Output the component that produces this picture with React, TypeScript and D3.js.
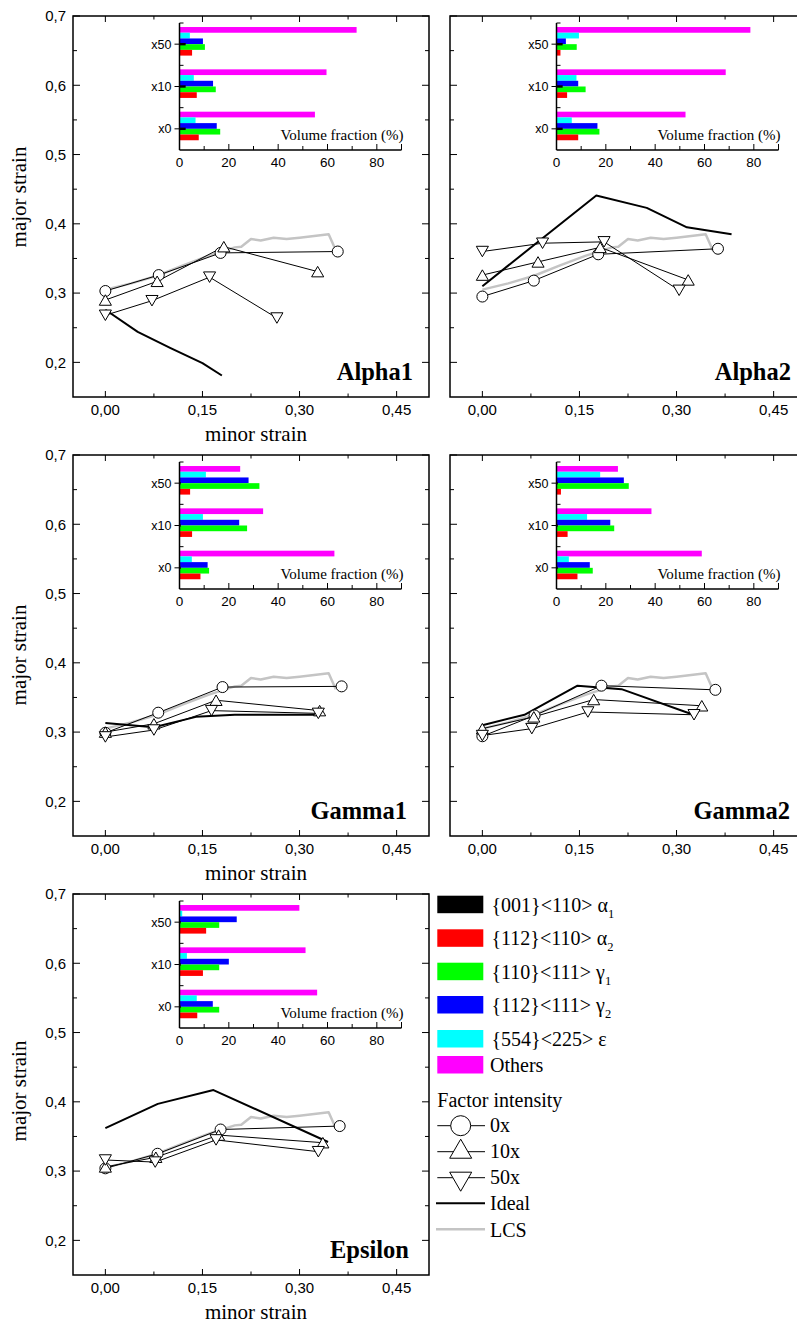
import React from 'react';
import * as d3 from 'd3';

type Pt = [number, number];

// ---- axis ticks / categories ----
const insetCategories = ['x0', 'x10', 'x50'];
const insetTicks = [0, 20, 40, 60, 80];
const strainXTicks = [0, 0.15, 0.3, 0.45];
const strainYTicks = [0.2, 0.3, 0.4, 0.5, 0.6, 0.7];

// legend order: α1, α2, γ1, γ2, ε, others
const textureLabels = [
  { base: '{001}<110> α', sub: '1' },
  { base: '{112}<110> α', sub: '2' },
  { base: '{110}<111> γ', sub: '1' },
  { base: '{112}<111> γ', sub: '2' },
  { base: '{554}<225> ε', sub: '' },
  { base: 'Others', sub: '' },
];
const textureColors = ['#000000', '#ff0000', '#00ff00', '#0000ff', '#00ffff', '#ff00ff'];
const factorLabels = ['0x', '10x', '50x'];

// ---- shared LCS curve ----
const lcsCurve: Pt[] = [
  [0, 0.305], [0.04, 0.314], [0.08, 0.325], [0.12, 0.34], [0.16, 0.354], [0.2, 0.366],
  [0.21, 0.367], [0.225, 0.378], [0.24, 0.376], [0.26, 0.38], [0.28, 0.378], [0.3, 0.38],
  [0.345, 0.385], [0.356, 0.362],
];

// ---- volume fractions (rows: α1, α2, γ1, γ2, ε, others; cols: x0, x10, x50) ----
const alpha1Fractions = [
  [2.5, 2.5, 2.5], [7.8, 7.0, 5.1], [16.5, 14.7, 10.3], [15.1, 13.6, 9.5], [6.5, 5.8, 4.2], [54.9, 59.6, 71.8],
];
const alpha2Fractions = [
  [2.5, 2.5, 2.5], [8.8, 4.3, 1.6], [17.4, 11.8, 8.2], [16.6, 8.8, 3.8], [6.2, 8.1, 9.1], [52.3, 68.6, 78.6],
];
const gamma1Fractions = [
  [0.5, 0.5, 0.5], [8.5, 5.1, 4.3], [12.0, 27.4, 32.4], [11.4, 24.2, 28.0], [5.0, 9.5, 10.7], [62.8, 33.9, 24.6],
];
const gamma2Fractions = [
  [0.5, 0.5, 0.5], [8.5, 4.5, 1.8], [14.7, 23.4, 29.3], [13.5, 21.8, 27.3], [5.0, 12.4, 17.7], [58.9, 38.5, 24.9],
];
const epsilonFractions = [
  [0.5, 0.5, 0.5], [7.2, 9.5, 10.8], [16.1, 16.1, 16.1], [13.5, 20.0, 23.2], [7.0, 3.0, 1.1], [55.8, 51.1, 48.6],
];

// ---- strain paths (minor, major) ----
const alpha1Circle: Pt[] = [[0, 0.303], [0.0825, 0.326], [0.178, 0.358], [0.359, 0.36]];
const alpha1Up: Pt[] = [[0, 0.29], [0.08, 0.317], [0.183, 0.367], [0.328, 0.331]];
const alpha1Down: Pt[] = [[0, 0.268], [0.072, 0.289], [0.161, 0.323], [0.265, 0.264]];
const alpha1Ideal: Pt[] = [[0, 0.276], [0.05, 0.244], [0.1, 0.221], [0.15, 0.199], [0.18, 0.181]];

const alpha2Circle: Pt[] = [[0, 0.295], [0.0795, 0.318], [0.179, 0.356], [0.364, 0.364]];
const alpha2Up: Pt[] = [[0, 0.326], [0.086, 0.345], [0.182, 0.366], [0.318, 0.319]];
const alpha2Down: Pt[] = [[0, 0.36], [0.093, 0.372], [0.188, 0.374], [0.304, 0.304]];
const alpha2Ideal: Pt[] = [[0, 0.31], [0.176, 0.441], [0.254, 0.423], [0.316, 0.395], [0.385, 0.385]];

const gamma1Circle: Pt[] = [[0, 0.299], [0.0817, 0.328], [0.181, 0.365], [0.365, 0.366]];
const gamma1Up: Pt[] = [[0, 0.3], [0.075, 0.312], [0.171, 0.346], [0.331, 0.331]];
const gamma1Down: Pt[] = [[0, 0.293], [0.075, 0.303], [0.164, 0.331], [0.329, 0.327]];
const gamma1Ideal: Pt[] = [[0, 0.313], [0.075, 0.307], [0.14, 0.322], [0.2, 0.325], [0.33, 0.325]];

const gamma2Circle: Pt[] = [[0, 0.294], [0.0806, 0.324], [0.184, 0.367], [0.36, 0.361]];
const gamma2Up: Pt[] = [[0, 0.305], [0.0795, 0.322], [0.172, 0.347], [0.339, 0.338]];
const gamma2Down: Pt[] = [[0, 0.295], [0.0764, 0.305], [0.163, 0.329], [0.327, 0.325]];
const gamma2Ideal: Pt[] = [[0, 0.31], [0.065, 0.325], [0.147, 0.367], [0.215, 0.362], [0.326, 0.325]];

const epsilonCircle: Pt[] = [[0, 0.304], [0.0806, 0.325], [0.178, 0.36], [0.362, 0.365]];
const epsilonUp: Pt[] = [[0, 0.306], [0.078, 0.32], [0.175, 0.352], [0.336, 0.341]];
const epsilonDown: Pt[] = [[0, 0.316], [0.077, 0.313], [0.171, 0.345], [0.329, 0.328]];
const epsilonIdeal: Pt[] = [[0, 0.362], [0.081, 0.397], [0.167, 0.417], [0.344, 0.342]];

const SANS = '"Liberation Sans", Arial, sans-serif';
const SERIF = '"Liberation Serif", "Times New Roman", serif';

const panels = [
  { name: 'Alpha1', left: 73, top: 16, fr: alpha1Fractions, circle: alpha1Circle, up: alpha1Up, down: alpha1Down, ideal: alpha1Ideal, yLabelY: 197, xLabel: true, nameRight: 413 },
  { name: 'Alpha2', left: 450, top: 16, fr: alpha2Fractions, circle: alpha2Circle, up: alpha2Up, down: alpha2Down, ideal: alpha2Ideal, yLabelY: 0, xLabel: false, nameRight: 791 },
  { name: 'Gamma1', left: 73, top: 455, fr: gamma1Fractions, circle: gamma1Circle, up: gamma1Up, down: gamma1Down, ideal: gamma1Ideal, yLabelY: 655, xLabel: true, nameRight: 407 },
  { name: 'Gamma2', left: 450, top: 455, fr: gamma2Fractions, circle: gamma2Circle, up: gamma2Up, down: gamma2Down, ideal: gamma2Ideal, yLabelY: 0, xLabel: false, nameRight: 790 },
  { name: 'Epsilon', left: 73, top: 894, fr: epsilonFractions, circle: epsilonCircle, up: epsilonUp, down: epsilonDown, ideal: epsilonIdeal, yLabelY: 1091, xLabel: true, nameRight: 409 },
];

const comma = (d: number, n: number) => d.toFixed(n).replace('.', ',');

function triPath(width: number) {
  const yy = width / (2 * Math.sqrt(3));
  return { d: d3.symbol().type(d3.symbolTriangle).size(yy * yy * 3 * Math.sqrt(3))() as string, shift: yy / 2 };
}

function Marker({ kind, cx, cy, size }: { kind: number; cx: number; cy: number; size: number }) {
  if (kind === 0) return <circle cx={cx} cy={cy} r={size / 2} fill="#fff" stroke="#000" strokeWidth={1} />;
  const t = triPath(size * 1.1);
  const tr = kind === 1 ? `translate(${cx},${cy + t.shift})` : `translate(${cx},${cy - t.shift}) rotate(180)`;
  return <path d={t.d} transform={tr} fill="#fff" stroke="#000" strokeWidth={1} />;
}

function Inset({ left, top, fr }: { left: number; top: number; fr: number[][] }) {
  const il = left + 106.5, it = top + 7, ib = top + 134;
  const ix = d3.scaleLinear().domain([0, 90]).range([il, il + 222]);
  const iy = d3.scaleBand().domain(insetCategories).range([ib, it]);
  const bw = iy.bandwidth();
  const th = bw * 0.135;
  // slot from top of band: others, ε, γ2, γ1, α2
  const slot: Record<number, number> = { 5: 0, 4: 1, 3: 2, 2: 3, 1: 4 };
  const off = bw * 0.095;
  const minorX = d3.range(10, 100, 20);
  return (
    <g>
      {[5, 4, 3, 2, 1].map(s =>
        insetCategories.map((c, ci) => (
          <rect key={`${s}-${c}`} x={ix(0)} y={(iy(c) as number) + off + slot[s] * th} width={ix(fr[s][ci]) - ix(0)} height={th} fill={textureColors[s]} />
        ))
      )}
      {insetCategories.map((c, ci) => (
        <rect key={`a1-${c}`} x={ix(0)} y={(iy(c) as number) + off + 3 * th - 1.2} width={ix(fr[0][ci]) - ix(0)} height={2.4} fill={textureColors[0]} />
      ))}
      <line x1={il} x2={il} y1={ib} y2={it} stroke="#000" strokeWidth={1.5} />
      <line x1={il} x2={il + 222} y1={ib} y2={ib} stroke="#000" strokeWidth={1.5} />
      {insetTicks.map(t => (
        <g key={t}>
          <line x1={ix(t)} x2={ix(t)} y1={ib} y2={ib - 6} stroke="#000" strokeWidth={1} />
          <text x={ix(t)} y={ib + 17} textAnchor="middle" fontFamily={SANS} fontSize={13.5}>{t}</text>
        </g>
      ))}
      {minorX.map(t => (
        <line key={t} x1={ix(t)} x2={ix(t)} y1={ib} y2={ib - 4} stroke="#000" strokeWidth={1} />
      ))}
      <line x1={ix(90)} x2={ix(90)} y1={ib} y2={ib - 6} stroke="#000" strokeWidth={1} />
      {insetCategories.map(c => {
        const cy = (iy(c) as number) + bw / 2;
        return (
          <g key={c}>
            <line x1={il} x2={il - 5} y1={cy} y2={cy} stroke="#000" strokeWidth={1} />
            <text x={il - 8} y={cy} dy="0.35em" textAnchor="end" fontFamily={SANS} fontSize={12.5}>{c}</text>
          </g>
        );
      })}
      {insetCategories.map(c => (
        <line key={c} x1={il} x2={il + 4} y1={iy(c) as number} y2={iy(c) as number} stroke="#000" strokeWidth={1} />
      ))}
      <text x={il + 224} y={ib - 10} textAnchor="end" fontFamily={SERIF} fontSize={15}>Volume fraction (%)</text>
    </g>
  );
}

function Panel({ p, isLeft }: { p: typeof panels[number]; isLeft: boolean }) {
  const w = 356, h = 381;
  const { left, top } = p;
  const x = d3.scaleLinear().domain([-0.05, 0.5]).range([left, left + w]);
  const y = d3.scaleLinear().domain([0.15, 0.7]).range([top + h, top]);
  const line = d3.line<Pt>().x(d => x(d[0])).y(d => y(d[1]));
  const bottom = top + h, right = left + w;
  const xMinor = [0.075, 0.225, 0.375];
  const yMinor = [0.25, 0.35, 0.45, 0.55, 0.65];
  const series = [p.circle, p.up, p.down];
  return (
    <g>
      <rect x={left} y={top} width={w} height={h} fill="none" stroke="#000" strokeWidth={1.5} />
      {strainXTicks.map(t => (
        <g key={t}>
          <line x1={x(t)} x2={x(t)} y1={bottom} y2={bottom - 6} stroke="#000" />
          <line x1={x(t)} x2={x(t)} y1={top} y2={top + 6} stroke="#000" />
          <text x={x(t)} y={bottom + 17.5} textAnchor="middle" fontFamily={SANS} fontSize={15}>{comma(t, 2)}</text>
        </g>
      ))}
      {xMinor.map(t => (
        <g key={t}>
          <line x1={x(t)} x2={x(t)} y1={bottom} y2={bottom - 3.5} stroke="#000" />
          <line x1={x(t)} x2={x(t)} y1={top} y2={top + 3.5} stroke="#000" />
        </g>
      ))}
      {strainYTicks.map(t => (
        <g key={t}>
          <line x1={left} x2={left + 7} y1={y(t)} y2={y(t)} stroke="#000" />
          <line x1={right} x2={right - 7} y1={y(t)} y2={y(t)} stroke="#000" />
          {isLeft && (
            <text x={left - 7} y={y(t)} dy="0.35em" textAnchor="end" fontFamily={SANS} fontSize={15}>{comma(t, 1)}</text>
          )}
        </g>
      ))}
      {yMinor.map(t => (
        <g key={t}>
          <line x1={left} x2={left + 4} y1={y(t)} y2={y(t)} stroke="#000" />
          <line x1={right} x2={right - 4} y1={y(t)} y2={y(t)} stroke="#000" />
        </g>
      ))}
      <Inset left={left} top={top} fr={p.fr} />
      <path d={line(lcsCurve) as string} fill="none" stroke="#c4c4c4" strokeWidth={2.5} strokeLinejoin="round" />
      <path d={line(p.ideal) as string} fill="none" stroke="#000" strokeWidth={2} strokeLinejoin="round" />
      {series.map((s, i) => (
        <path key={i} d={line(s) as string} fill="none" stroke="#000" strokeWidth={1} />
      ))}
      {series.map((s, i) =>
        s.map((d, j) => <Marker key={`${i}-${j}`} kind={i} cx={x(d[0])} cy={y(d[1])} size={11} />)
      )}
      <text x={p.nameRight} y={bottom - 17} textAnchor="end" fontFamily={SERIF} fontWeight="bold" fontSize={24.5}>{p.name}</text>
      {isLeft && (
        <text transform={`translate(26,${p.yLabelY}) rotate(-90)`} textAnchor="middle" fontFamily={SERIF} fontSize={21}>major strain</text>
      )}
      {p.xLabel && (
        <text x={left + 183} y={bottom + 44} textAnchor="middle" fontFamily={SERIF} fontSize={21}>minor strain</text>
      )}
    </g>
  );
}

function Legend() {
  const lx = 437.3, tx = 491.5;
  const swatchTop = [895.7, 929.3, 962.7, 996, 1030, 1056];
  const factorLineY = [1125.7, 1151.7, 1177.7];
  return (
    <g fontFamily={SERIF} fontSize={20}>
      {textureLabels.map((t, i) => (
        <g key={i}>
          <rect x={lx} y={swatchTop[i]} width={46} height={17.5} fill={textureColors[i]} />
          <text x={i === 5 ? 490 : tx} y={swatchTop[i] + 16}>
            {t.base}
            {t.sub && <tspan dy={6} fontSize={12.5}>{t.sub}</tspan>}
          </text>
        </g>
      ))}
      <text x={lx} y={1106.7}>Factor intensity</text>
      {factorLabels.map((f, i) => (
        <g key={f}>
          <line x1={lx} x2={485} y1={factorLineY[i]} y2={factorLineY[i]} stroke="#000" strokeWidth={1} />
          <Marker kind={i} cx={460.7} cy={factorLineY[i] - (i === 1 ? 3 : i === 2 ? -4 : 0)} size={20} />
          <text x={490} y={factorLineY[i] + 6.6}>{f}</text>
        </g>
      ))}
      <line x1={436} x2={485} y1={1203.3} y2={1203.3} stroke="#000" strokeWidth={2} />
      <text x={490} y={1210}>Ideal</text>
      <line x1={436} x2={485} y1={1229.3} y2={1229.3} stroke="#c4c4c4" strokeWidth={2.5} />
      <text x={490} y={1236.7}>LCS</text>
    </g>
  );
}

export default function App() {
  return (
    <svg width={797} height={1326} style={{ position: 'absolute', left: 0, top: 0, display: 'block', background: '#fff' }}>
      {panels.map((p, i) => (
        <Panel key={p.name} p={p} isLeft={i % 2 === 0} />
      ))}
      <Legend />
    </svg>
  );
}
